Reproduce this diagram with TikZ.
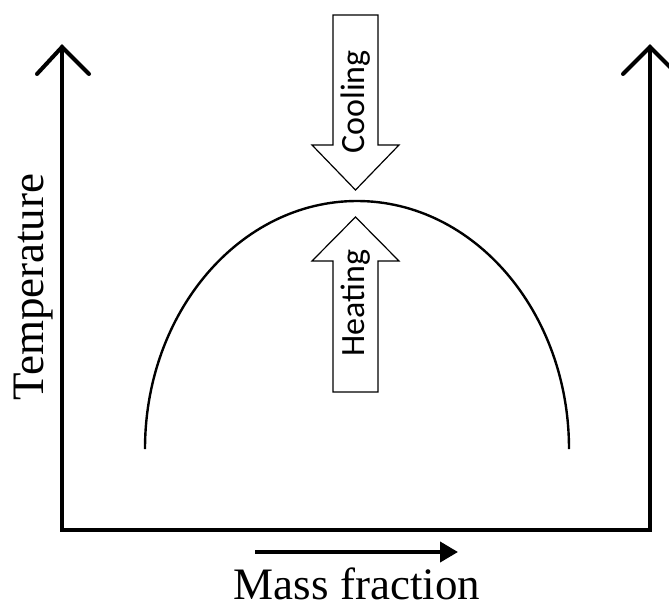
\documentclass[tikz,border=0pt]{standalone}
\usepackage{fontspec}
\setmainfont{Liberation Serif}
\newfontfamily\calib{Carlito}
\usetikzlibrary{arrows.meta}
\begin{document}
\begin{tikzpicture}[x=1pt,y=-1pt,
  axisline/.style={line width=4pt,line join=miter,line cap=round},
  blockarrow/.style={draw=black,line width=1.2pt,fill=white,line join=miter},
  blocktext/.style={font=\calib\fontsize{34}{34}\selectfont,rotate=90,inner sep=0pt},
  axislabel/.style={font=\fontsize{45}{45}\selectfont,inner sep=0pt}]
\useasboundingbox (0,0) rectangle (669,607);
% axes
\coordinate (ytop) at (62,47);
\coordinate (origin) at (62,530);
\coordinate (xend) at (650,530);
\coordinate (rtop) at (650,47);
\draw[axisline] (ytop) -- (origin) -- (xend) -- (rtop);
\draw[axisline] (37,74) -- (ytop) -- (89,74);
\draw[axisline] (623,74) -- (rtop) -- (677,74);
% curve
\draw[line width=2.4pt] (145,449) arc[start angle=-180,end angle=0,x radius=212,y radius=248];
% cooling arrow
\draw[blockarrow] (333,15) -- (378,15) -- (378,145) -- (399,145) -- (355.5,190) -- (312,145) -- (333,145) -- cycle;
\node[blocktext] (cool) at (356,102) {Cooling};
% heating arrow
\draw[blockarrow] (355.5,217) -- (399,261) -- (378,261) -- (378,392) -- (333,392) -- (333,261) -- (312,261) -- cycle;
\node[blocktext] (heat) at (356,303) {Heating};
% mass fraction arrow
\coordinate (mfa) at (255,552);
\coordinate (mfb) at (458,552);
\draw[line width=4pt,-{Triangle[length=18pt,width=20pt]}] (mfa) -- (mfb);
\node[axislabel,anchor=base] (mf) at (357,599) {Mass fraction};
\node[axislabel,rotate=90,anchor=base] (temp) at (43,287) {Temperature};
\end{tikzpicture}
\end{document}
